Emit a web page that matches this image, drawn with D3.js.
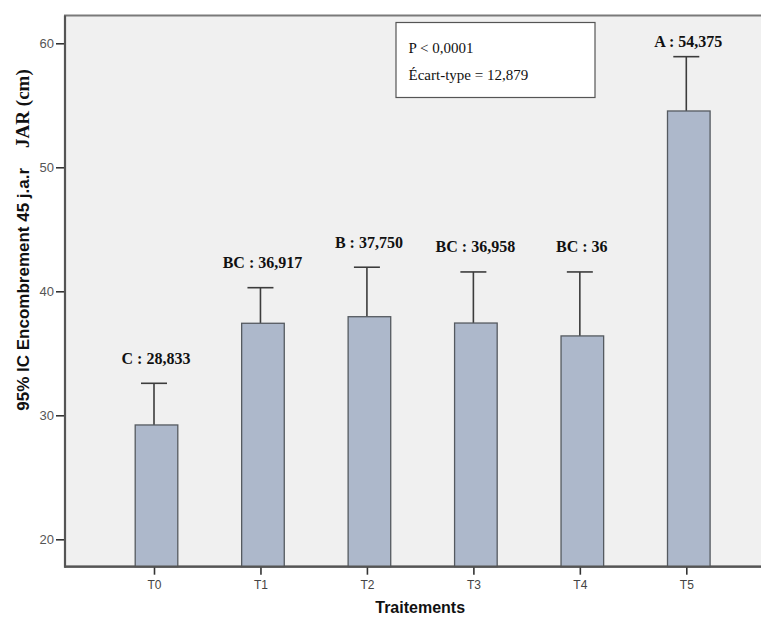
<!DOCTYPE html>
<html><head><meta charset="utf-8">
<script src="https://cdn.jsdelivr.net/npm/d3@7"></script>
<style>html,body{margin:0;padding:0;background:#fff;}svg{display:block;}</style>
</head><body>
<svg id="chart" width="761" height="621"></svg>
<script>
const categories = ["T0","T1","T2","T3","T4","T5"];
const barValues = [29.22, 37.42, 37.95, 37.44, 36.4, 54.54];
const upperCI = [32.58, 40.29, 41.94, 41.56, 41.56, 58.92];
const barLabels = ["C : 28,833","BC : 36,917","B : 37,750","BC : 36,958","BC : 36","A : 54,375"];
const yTicks = [20, 30, 40, 50, 60];
const statLines = ["P < 0,0001", "Écart-type = 12,879"];

const svg = d3.select("#chart");
const L = 65, T = 15.5, R = 775.3, B = 566.7;

const x = d3.scalePoint().domain(categories).range([L, R]).padding(0.836);
const y = d3.scaleLinear().domain([17.79, 62.24]).range([B, T]);
const barW = 42.6, barShift = 2.5, capHalf = 13;

// panel
svg.append("rect").attr("x", L).attr("y", T).attr("width", 800 - L).attr("height", B - T)
  .attr("fill", "#f0f0f0").attr("stroke", "#7a7a7a").attr("stroke-width", 2);

// error bars (upper part)
const eb = svg.append("g").attr("stroke", "#3c3c3c").attr("stroke-width", 1.6);
categories.forEach((c, i) => {
  eb.append("line").attr("x1", x(c)).attr("x2", x(c)).attr("y1", y(barValues[i])).attr("y2", y(upperCI[i]));
  eb.append("line").attr("x1", x(c) - capHalf).attr("x2", x(c) + capHalf).attr("y1", y(upperCI[i])).attr("y2", y(upperCI[i]));
});

// bars
svg.append("g").selectAll("rect").data(categories).join("rect")
  .attr("x", c => x(c) - barW / 2 + barShift)
  .attr("y", (c, i) => y(barValues[i]))
  .attr("width", barW)
  .attr("height", (c, i) => B - y(barValues[i]))
  .attr("fill", "#adb8cb").attr("stroke", "#555a60").attr("stroke-width", 1.3);

// y axis
const yAxis = svg.append("g").attr("transform", `translate(${L},0)`)
  .call(d3.axisLeft(y).tickValues(yTicks).tickSize(9).tickPadding(2).tickFormat(d3.format("d")));
yAxis.select(".domain").remove();
yAxis.selectAll(".tick line").attr("stroke", "#333").attr("stroke-width", 1.6);
yAxis.selectAll(".tick text").attr("fill", "#555").attr("font-family", "Arial, 'Liberation Sans', sans-serif").attr("font-size", 13);

// x axis
const xAxis = svg.append("g").attr("transform", `translate(0,${B})`)
  .call(d3.axisBottom(x).tickSize(8).tickPadding(6));
xAxis.select(".domain").remove();
xAxis.selectAll(".tick line").attr("stroke", "#333").attr("stroke-width", 1.6);
xAxis.selectAll(".tick text").attr("fill", "#444").attr("font-family", "'Liberation Sans Narrow', Arial, sans-serif").attr("font-size", 12);

// axis lines
svg.append("line").attr("x1", L).attr("x2", L).attr("y1", T).attr("y2", B + 1).attr("stroke", "#555").attr("stroke-width", 2.2);
svg.append("line").attr("x1", L).attr("x2", 761).attr("y1", B).attr("y2", B).attr("stroke", "#555").attr("stroke-width", 2.2);

// bar annotations
svg.append("g").selectAll("text").data(categories).join("text")
  .attr("x", c => x(c) + 2)
  .attr("y", (c, i) => Math.max(y(upperCI[i]) - 25, T + 26) + 5.5)
  .attr("text-anchor", "middle")
  .attr("font-family", "'Liberation Serif', 'Times New Roman', serif")
  .attr("font-weight", "bold").attr("font-size", 16).attr("fill", "#111")
  .text((c, i) => barLabels[i]);

// stats box
svg.append("rect").attr("x", 396).attr("y", 22.5).attr("width", 199).attr("height", 75)
  .attr("fill", "#fff").attr("stroke", "#555").attr("stroke-width", 1.2);
svg.append("g").selectAll("text").data(statLines).join("text")
  .attr("x", 408.5).attr("y", (d, i) => 52.5 + i * 27.7)
  .attr("font-family", "'Liberation Serif', 'Times New Roman', serif")
  .attr("font-size", 15).attr("fill", "#111").text(d => d);

// axis titles
svg.append("text").attr("x", (L + R) / 2).attr("y", 613)
  .attr("text-anchor", "middle").attr("font-family", "Arial, 'Liberation Sans', sans-serif")
  .attr("font-weight", "bold").attr("font-size", 16).attr("fill", "#111").text("Traitements");

const yt = svg.append("text").attr("transform", `translate(29,240) rotate(-90)`)
  .attr("text-anchor", "middle").attr("font-weight", "bold").attr("fill", "#111");
yt.append("tspan").attr("font-family", "Arial, 'Liberation Sans', sans-serif").attr("font-size", 17).text("95% IC Encombrement 45 j.a.r");
yt.append("tspan").attr("font-family", "'Liberation Serif', 'Times New Roman', serif").attr("font-size", 19).attr("dx", 20).text("JAR (cm)");
</script>
</body></html>
